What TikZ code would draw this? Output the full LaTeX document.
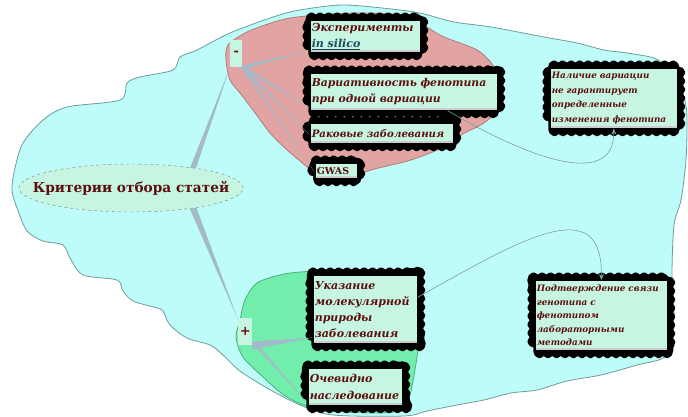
\documentclass[tikz,border=0pt]{standalone}
\usepackage{fontspec}
\setmainfont{DejaVu Serif}
\usetikzlibrary{shapes.geometric,decorations.pathmorphing,arrows.meta}

\definecolor{skycloud}{HTML}{BEFCFA}
\definecolor{skyline}{HTML}{6E9C9C}
\definecolor{redcloud}{HTML}{E2A4A2}
\definecolor{redline}{HTML}{B07C78}
\definecolor{greencloud}{HTML}{72EEAC}
\definecolor{greenline}{HTML}{4EAE7C}
\definecolor{mint}{HTML}{C6F6E2}
\definecolor{inkred}{HTML}{5C0E0E}
\definecolor{silico}{HTML}{1A4A5A}
\definecolor{branch}{HTML}{A4BAC8}
\definecolor{relline}{HTML}{809E9E}

\begin{document}
\begin{tikzpicture}[x=1pt, y=-1pt,
    topic/.style={rectangle, fill=mint, draw=black, line width=0.6pt, text=inkred,
      anchor=north west, align=left, inner sep=1.5pt,
      font=\fontsize{11}{16}\selectfont\bfseries\itshape,
      preaction={fill=black, draw=black, line width=4pt, line join=round, decorate,
        decoration={bumps, mirror, segment length=17pt, amplitude=6pt}},
      path picture={\fill[gray!40] (path picture bounding box.south west)
        rectangle ([yshift=2.5pt]path picture bounding box.south east);}},
    sign/.style={rectangle, fill=mint, text=inkred, anchor=north west,
      inner sep=0pt, font=\fontsize{13}{15}\selectfont\bfseries},
    cloud/.style={line width=0.8pt},
    rel/.style={draw=relline, line width=0.6pt, -{Stealth[length=6pt,width=5pt]}}]
    \useasboundingbox (0,0) rectangle (688,417);

    % облака
    \draw[cloud, fill=skycloud, draw=skyline] plot[smooth cycle, tension=0.5] coordinates {
      (300,10) (344,5) (400,10) (424,14) (454,22) (491,27) (544,37) (577,43) (604,50)
      (627,53) (654,58) (667,67) (677,80) (684,97) (687,117) (686,160) (681,200)
      (674,225) (672,275) (674,318) (667,355) (637,365) (601,375) (567,381) (537,390)
      (511,393) (484,400) (457,405) (427,411) (404,416) (333,415) (300,405) (267,388)
      (240,371) (223,355) (210,345) (187,338) (170,325) (163,311) (157,308) (133,301)
      (123,291) (117,280) (83,275) (70,258) (63,245) (43,241) (27,231) (17,208)
      (12,190) (15,168) (23,143) (43,120) (67,107) (120,100) (127,83) (140,77)
      (173,70) (180,57) (197,50) (230,33) (273,17)};
    \draw[cloud, fill=redcloud, draw=redline] plot[smooth cycle, tension=0.5] coordinates {
      (228,45) (245,33) (265,25) (290,18) (330,14) (370,13) (411,16) (427,27) (444,37)
      (477,50) (494,67) (500,90) (497,110) (484,123) (461,135) (444,147) (411,160)
      (371,170) (345,180) (322,182) (307,167) (287,150) (270,133) (253,110) (240,93)
      (230,80) (226,60)};
    \draw[cloud, fill=greencloud, draw=greenline] plot[smooth cycle, tension=0.5] coordinates {
      (257,283) (280,275) (300,272) (340,270) (380,270) (417,274) (421,317) (418,350)
      (410,395) (400,410) (377,413) (320,410) (287,397) (263,377) (243,357) (236,337)
      (240,320) (245,300)};

    \node[ellipse, fill=mint, draw=gray, dashed, inner xsep=-30pt, inner ysep=6pt,
      minimum width=224pt, minimum height=48pt,
      text=inkred, font=\fontsize{13.7}{16}\selectfont\bfseries] (root) at (131,188) {Критерии отбора статей};

    \node[sign, minimum width=12pt, minimum height=27pt] (minus) at (230,40) {-};
    \node[sign, minimum width=14pt, minimum height=27pt] (plus) at (238,318) {+};

    \node[topic, minimum width=110pt, minimum height=32pt, text width=107pt] (silicoexp) at (310,20)
      {Эксперименты\\\textcolor{silico}{\underline{in~silico}}};
    \node[topic, minimum width=187pt, minimum height=37pt, text width=184pt,
      font=\fontsize{10.8}{16}\selectfont\bfseries\itshape] (variab) at (310,73)
      {Вариативность~фенотипа\\при~одной~вариации};
    \node[topic, minimum width=143pt, minimum height=20pt, text width=140pt,
      font=\fontsize{10.2}{14}\selectfont\bfseries\itshape] (cancer) at (310,123) {Раковые~заболевания};
    \node[topic, minimum width=42pt, minimum height=15pt, text width=39pt,
      font=\fontsize{9.5}{12}\selectfont\bfseries,
      preaction={fill=black, draw=black, line width=4pt, line join=round, decorate,
        decoration={bumps, mirror, segment length=11pt, amplitude=4pt}}] (gwas) at (315,163) {GWAS};
    \node[topic, minimum width=127pt, minimum height=60pt, text width=124pt,
      font=\fontsize{8.8}{14.5}\selectfont\bfseries\itshape] (nogar) at (550,68)
      {Наличие~вариации\\не~гарантирует\\определенные\\изменения~фенотипа};
    \node[topic, minimum width=132pt, minimum height=70pt, text width=129pt,
      font=\fontsize{8.8}{13.5}\selectfont\bfseries\itshape] (confirm) at (535,280)
      {Подтверждение~связи\\генотипа~с\\фенотипом\\лабораторными\\методами};
    \node[topic, minimum width=104pt, minimum height=68pt, text width=101pt] (molec) at (313,275)
      {Указание\\молекулярной\\природы\\заболевания};
    \node[topic, minimum width=94pt, minimum height=37pt, text width=91pt,
      font=\fontsize{11}{17}\selectfont\bfseries\itshape] (inherit) at (308,368)
      {Очевидно\\наследование};

    % ветви
    \fill[branch] ([xshift=-3pt]root.18) -- (minus.south west) -- ([xshift=3pt]root.18) -- cycle;
    \fill[branch] ([xshift=-3.5pt]root.-18) -- ([yshift=12pt]plus.west) -- ([xshift=3.5pt]root.-18) -- cycle;
    \fill[branch] ([yshift=2pt]minus.south east) -- ([yshift=2pt]silicoexp.south west) -- ([yshift=-2pt]minus.south east) -- cycle;
    \fill[branch] ([yshift=2pt]minus.south east) -- ([yshift=3pt]variab.south west) -- ([yshift=-2pt]minus.south east) -- cycle;
    \fill[branch] ([yshift=2pt]minus.south east) -- ([yshift=-2pt]cancer.west) -- ([yshift=-2pt]minus.south east) -- cycle;
    \fill[branch] ([yshift=2pt]minus.south east) -- ([yshift=-2pt]gwas.west) -- ([yshift=-2pt]minus.south east) -- cycle;
    \fill[branch] ([yshift=4pt]plus.south east) -- ([yshift=6pt]molec.south west) -- ([yshift=-4pt]plus.south east) -- cycle;
    \fill[branch] ([yshift=2pt]plus.south east) -- ([yshift=2pt]inherit.south west) -- ([xshift=6pt]plus.south east) -- cycle;

    \draw[rel] ([xshift=-50pt]variab.south east) .. controls (540,165) and (614,185) .. (nogar.south);
    \draw[rel] ([yshift=12pt]molec.east) .. controls (520,240) and (603,190) .. (confirm.north);
\end{tikzpicture}
\end{document}
